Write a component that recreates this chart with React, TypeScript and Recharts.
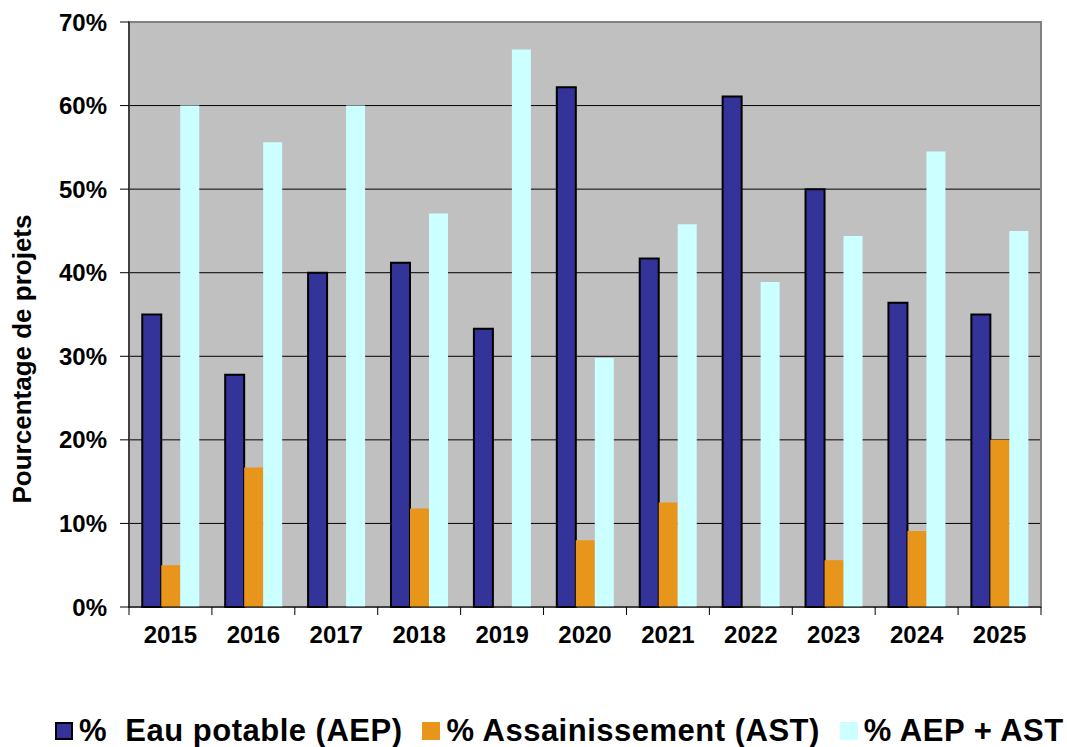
import React from 'react';
import {
  BarChart,
  Bar,
  XAxis,
  YAxis,
  CartesianGrid,
  Legend,
  Label,
  ReferenceArea,
} from 'recharts';

const years = ['2015', '2016', '2017', '2018', '2019', '2020', '2021', '2022', '2023', '2024', '2025'];
const aepValues = [35, 27.8, 40, 41.2, 33.3, 62.2, 41.7, 61.1, 50, 36.4, 35];
const astValues = [5, 16.7, 0, 11.8, 0, 8, 12.5, 0, 5.6, 9.1, 20];
const bothValues = [60, 55.6, 60, 47.1, 66.7, 29.8, 45.8, 38.9, 44.4, 54.5, 45];
const yTicks = [0, 10, 20, 30, 40, 50, 60, 70];
const seriesKeys = ['aep', 'ast', 'both'];
const seriesNames = ['%  Eau potable (AEP)', '% Assainissement (AST)', '% AEP + AST'];
const yTitle = 'Pourcentage de projets';

const FONT = '"Liberation Sans", Arial, Helvetica, sans-serif';
const COLORS: Record<string, string> = { aep: '#333399', ast: '#E8951C', both: '#CCFFFF' };

const data = years.map((year, i) => ({
  year,
  aep: aepValues[i],
  ast: astValues[i],
  both: bothValues[i],
}));

const XTick = (props: any) => {
  const { x, y, payload, index } = props;
  const half = payload && typeof payload.offset === 'number' && payload.offset > 0 ? payload.offset : 41.45;
  const last = index === years.length - 1;
  return (
    <g>
      <line x1={x - half} x2={x - half} y1={y - 8} y2={y} stroke="#000" strokeWidth={1} />
      {last && <line x1={x + half} x2={x + half} y1={y - 8} y2={y} stroke="#000" strokeWidth={1} />}
      <text x={x} y={y} dy={28} textAnchor="middle" fill="#000" fontSize={24} fontWeight="bold" fontFamily={FONT}>
        {payload.value}
      </text>
    </g>
  );
};

const TitleLabel = () => (
  <text
    x={31}
    y={359}
    transform="rotate(-90 31 359)"
    textAnchor="middle"
    fill="#000"
    fontSize={26}
    fontWeight="bold"
    fontFamily={FONT}
  >
    {yTitle}
  </text>
);

const LegendContent = () => {
  return (
    <div
      style={{
        display: 'flex',
        alignItems: 'center',
        paddingLeft: 55,
        gap: 20,
        fontFamily: FONT,
        fontWeight: 'bold',
        fontSize: 31,
        letterSpacing: '0.5px',
        lineHeight: '34px',
        whiteSpace: 'pre',
        color: '#000',
      }}
    >
      {seriesKeys.map((key, i) => (
        <div key={key} style={{ display: 'flex', alignItems: 'center' }}>
          <span
            style={{
              display: 'inline-block',
              width: 18,
              height: 18,
              boxSizing: 'border-box',
              background: COLORS[key],
              border: key === 'aep' ? '2px solid #000' : 'none',
              marginRight: 6,
            }}
          />
          <span>{seriesNames[i]}</span>
        </div>
      ))}
    </div>
  );
};

export default function App() {
  return (
    <div style={{ position: 'absolute', top: 0, left: 0, width: 1067, height: 747, background: '#fff', overflow: 'visible' }}>
      <BarChart
        width={1067}
        height={747}
        data={data}
        margin={{ top: 22, right: 26, left: 0, bottom: 100 }}
        barCategoryGap="16%"
        barGap={0}
      >
        <CartesianGrid vertical={false} stroke="#000" fill="#C0C0C0" fillOpacity={1} />
        <XAxis
          dataKey="year"
          height={40}
          interval={0}
          axisLine={{ stroke: '#000', strokeWidth: 1 }}
          tickLine={false}
          tickSize={8}
          tickMargin={0}
          tick={<XTick />}
        />
        <YAxis
          width={129}
          domain={[0, 70]}
          ticks={yTicks}
          interval={0}
          tickFormatter={(v: number) => `${v}%`}
          tickSize={9}
          tickMargin={13}
          axisLine={{ stroke: '#000', strokeWidth: 1 }}
          tickLine={{ stroke: '#000' }}
          tick={{ fill: '#000', fontSize: 24, fontWeight: 'bold', fontFamily: FONT }}
        >
          <Label content={TitleLabel} />
        </YAxis>
        <ReferenceArea y1={0} y2={70} fill="none" stroke="#808080" strokeWidth={2} ifOverflow="visible" />
        <Bar dataKey="aep" name={seriesNames[0]} fill={COLORS.aep} stroke="#000" strokeWidth={2} isAnimationActive={false} />
        <Bar dataKey="ast" name={seriesNames[1]} fill={COLORS.ast} isAnimationActive={false} />
        <Bar dataKey="both" name={seriesNames[2]} fill={COLORS.both} isAnimationActive={false} />
        <Legend
          verticalAlign="middle"
          layout="horizontal"
          content={LegendContent}
          wrapperStyle={{ top: 714, left: 0, width: 1067, bottom: 'auto' }}
        />
      </BarChart>
    </div>
  );
}
